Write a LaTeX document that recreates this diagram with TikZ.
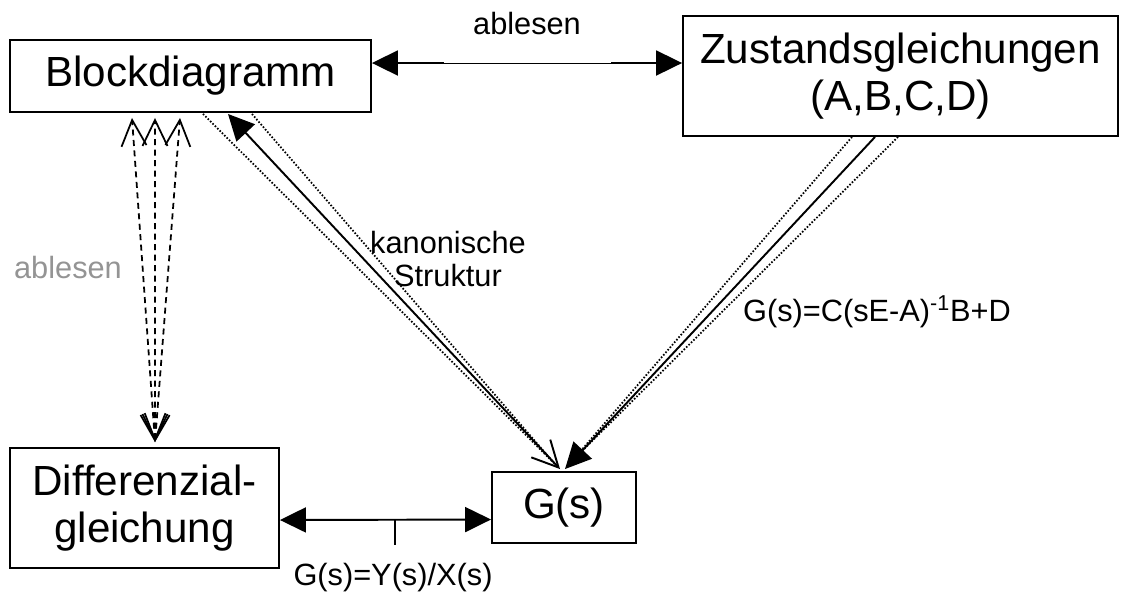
\documentclass[tikz,border=0pt]{standalone}
\usepackage{fontspec}
\setmainfont{Liberation Sans}
\usetikzlibrary{calc,arrows.meta,positioning}

\begin{document}
\begin{tikzpicture}[x=0.02cm,y=-0.02cm,
  box/.style={draw,line width=1.1pt,inner sep=0pt,align=center,font=\fontsize{24}{26.7}\selectfont},
  lbl/.style={inner sep=0pt,align=center,font=\fontsize{17.5}{18.5}\selectfont},
  con/.style={line width=1.1pt},
  dots/.style={line width=1pt,dash pattern=on 0.9pt off 1pt},
  dsh/.style={line width=1pt,dash pattern=on 0.12cm off 0.09cm,
    {Straight Barb[length=0.52cm,width=0.5cm]}-{Straight Barb[length=0.52cm,width=0.5cm]}},
  tri/.tip={Triangle[length=0.52cm,width=0.5cm]},
  barb/.tip={Straight Barb[length=0.52cm,width=0.52cm]}]

\useasboundingbox (0,0) rectangle (1128,593);

\node[box,minimum width=7.22cm,minimum height=1.44cm] (blk) at (190.5,76) {Blockdiagramm};
\node[box,minimum width=8.7cm,minimum height=2.4cm] (zsg) at (900.5,76) {Zustandsgleichungen\\(A,B,C,D)};
\node[box,minimum width=5.38cm,minimum height=2.4cm] (dgl) at (144.5,508) {Differenzial-\\gleichung};
\node[box,minimum width=2.88cm,minimum height=1.42cm] (gs) at (564,507.5) {G(s)};

\coordinate (t1) at ($(blk.east)+(72,-13)$);
\coordinate (t2) at ($(zsg.west)+(-71,-13)$);
\draw[con,-tri] (t1) -- ($(blk.east)+(0,-13)$);
\draw[con,-tri] (t2) -- ($(zsg.west)+(0,-13)$);
\draw[line width=0.5pt] (t1) -- (t2);
\node[lbl] (abl1) at (527,24) {ablesen};

\draw[con,tri-tri] ($(dgl.east)+(0,12)$) -- ($(gs.west)+(0,12)$);
\coordinate (tk) at (395,520);
\draw[line width=0.7pt] (tk) -- ++(0,25);
\node[lbl] (ys) at (393,578) {G(s)=Y(s)/X(s)};

\foreach \dx in {-58.5,-35.5,-10.5}
  \draw[dsh] ($(dgl.north)+(10.5,-5)$) -- ($(blk.south)+(\dx,5)$);
\node[lbl,text=black!42] (abl2) at (68,267) {ablesen};

\draw[con,tri-barb] ($(blk.south)+(37.5,1)$) -- ($(gs.north)+(-4,-2)$);
\draw[dots] ($(blk.south)+(12.5,1)$) -- ($(gs.north)+(-10,-8)$);
\draw[dots] ($(blk.south)+(61.5,1)$) -- ($(gs.north)+(-10,-8)$);
\node[lbl] (kan) at (448,259) {kanonische\\Struktur};

\draw[con,-tri] ($(zsg.south)+(-25.5,0)$) -- ($(gs.north)+(1,-2)$);
\draw[dots] ($(zsg.south)+(-48.5,0)$) -- ($(gs.north)+(8,-10)$);
\draw[dots] ($(zsg.south)+(-2.5,0)$) -- ($(gs.north)+(8,-10)$);
\node[lbl] (ztf) at (877,312) {G(s)=C(sE-A)\textsuperscript{-1}B+D};

\end{tikzpicture}
\end{document}
